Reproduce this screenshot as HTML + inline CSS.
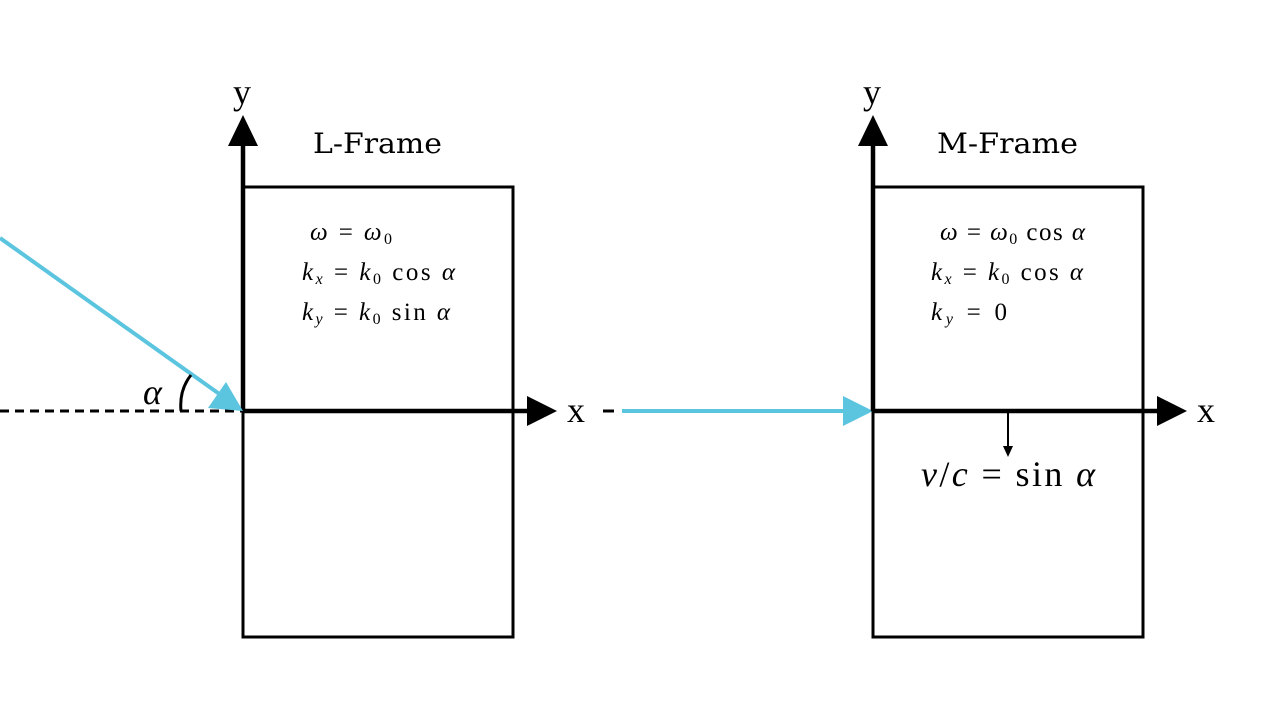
<!DOCTYPE html>
<html><head><meta charset="utf-8"><style>
body{margin:0;background:#fff}
svg{display:block}
text{font-family:"Liberation Serif","DejaVu Serif",serif;fill:#000}
.m{font-size:25px}
.i{font-style:italic}
.t{font-family:"DejaVu Serif","Liberation Serif",serif;font-size:28px}
</style></head><body>
<svg width="1280" height="720" viewBox="0 0 1280 720">
<g>
<rect x="243" y="187" width="270" height="450" fill="none" stroke="#000" stroke-width="3"/>
<line x1="0" y1="411" x2="243" y2="411" stroke="#000" stroke-width="3" stroke-dasharray="9,6"/>
<line x1="243" y1="411" x2="243" y2="146" stroke="#000" stroke-width="4.5"/>
<polygon points="228,146 258,146 243,115" fill="#000"/>
<line x1="243" y1="411" x2="528" y2="411" stroke="#000" stroke-width="4.5"/>
<polygon points="527,396 527,426 557,411" fill="#000"/>
<text x="242" y="104" font-size="36" text-anchor="middle">y</text>
<text x="576" y="422" font-size="36" text-anchor="middle">x</text>
<text class="t" x="313" y="153" textLength="129" lengthAdjust="spacingAndGlyphs">L-Frame</text>
<text class="m" x="310" y="240" textLength="82" lengthAdjust="spacing"><tspan class="i">ω</tspan> = <tspan class="i">ω</tspan><tspan font-size="16" dy="4">0</tspan></text>
<text class="m" x="302" y="280" textLength="153" lengthAdjust="spacing"><tspan class="i">k</tspan><tspan class="i" font-size="16" dy="4">x</tspan><tspan dy="-4"> = </tspan><tspan class="i">k</tspan><tspan font-size="16" dy="4">0</tspan><tspan dy="-4"> cos </tspan><tspan class="i">α</tspan></text>
<text class="m" x="302" y="320" textLength="148" lengthAdjust="spacing"><tspan class="i">k</tspan><tspan class="i" font-size="16" dy="4">y</tspan><tspan dy="-4"> = </tspan><tspan class="i">k</tspan><tspan font-size="16" dy="4">0</tspan><tspan dy="-4"> sin </tspan><tspan class="i">α</tspan></text>
<line x1="0" y1="238" x2="225" y2="398" stroke="#5bc4df" stroke-width="4"/>
<polygon points="243,411 208,408 226,382" fill="#5bc4df"/>
<path d="M181,411 Q179,390 191,375" fill="none" stroke="#000" stroke-width="3"/>
<text x="143" y="404" font-size="36" class="i">α</text>
</g>
<line x1="603" y1="411" x2="614" y2="411" stroke="#000" stroke-width="3"/>
<line x1="622" y1="411" x2="845" y2="411" stroke="#5bc4df" stroke-width="4"/>
<polygon points="843,396 843,426 873,411" fill="#5bc4df"/>
<g>
<rect x="873" y="187" width="270" height="450" fill="none" stroke="#000" stroke-width="3"/>
<line x1="873" y1="411" x2="873" y2="146" stroke="#000" stroke-width="4.5"/>
<polygon points="858,146 888,146 873,115" fill="#000"/>
<line x1="873" y1="411" x2="1158" y2="411" stroke="#000" stroke-width="4.5"/>
<polygon points="1157,396 1157,426 1187,411" fill="#000"/>
<text x="872" y="104" font-size="36" text-anchor="middle">y</text>
<text x="1206" y="422" font-size="36" text-anchor="middle">x</text>
<text class="t" x="937" y="153" textLength="141" lengthAdjust="spacingAndGlyphs">M-Frame</text>
<text class="m" x="940" y="240" textLength="145" lengthAdjust="spacing"><tspan class="i">ω</tspan> = <tspan class="i">ω</tspan><tspan font-size="16" dy="4">0</tspan><tspan dy="-4"> cos </tspan><tspan class="i">α</tspan></text>
<text class="m" x="931" y="280" textLength="152" lengthAdjust="spacing"><tspan class="i">k</tspan><tspan class="i" font-size="16" dy="4">x</tspan><tspan dy="-4"> = </tspan><tspan class="i">k</tspan><tspan font-size="16" dy="4">0</tspan><tspan dy="-4"> cos </tspan><tspan class="i">α</tspan></text>
<text class="m" x="931" y="320" textLength="76" lengthAdjust="spacing"><tspan class="i">k</tspan><tspan class="i" font-size="16" dy="4">y</tspan><tspan dy="-4"> = 0</tspan></text>
<line x1="1008" y1="413" x2="1008" y2="448" stroke="#000" stroke-width="2"/>
<polygon points="1003,446 1013,446 1008,457" fill="#000"/>
<text x="921" y="486" font-size="36" textLength="174" lengthAdjust="spacing"><tspan class="i">v</tspan>/<tspan class="i">c</tspan> = sin <tspan class="i">α</tspan></text>
</g>
</svg>
</body></html>
